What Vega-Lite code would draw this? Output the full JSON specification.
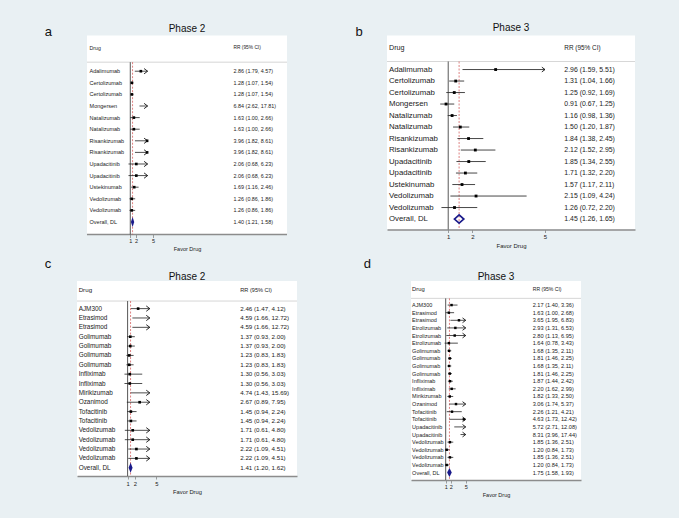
{
  "$schema": "https://vega.github.io/schema/vega-lite/v6.json",
  "background": "#e9f0f3",
  "padding": {"left": 44, "top": 22.5, "right": 45, "bottom": 20},
  "config": {
    "font": "Liberation Sans",
    "view": {"stroke": null},
    "text": {"align": "left", "baseline": "middle", "color": "#222", "font": "Liberation Sans"},
    "title": {"fontSize": 10, "fontWeight": "normal", "color": "#111", "baseline": "alphabetic", "frame": "group", "anchor": "middle", "font": "Liberation Sans"},
    "axisY": {"labels": false, "ticks": false, "domain": false, "grid": false, "titleAngle": 0, "titleAlign": "left", "titleBaseline": "alphabetic", "titleFontSize": 13, "titleFontWeight": "normal", "titleColor": "#111", "titleFont": "Liberation Sans"},
    "axisX": {"grid": false, "domainColor": "#8c8c8c", "domainWidth": 1.4, "tickColor": "#777", "tickWidth": 0.7, "tickSize": 3, "labelColor": "#222", "labelPadding": 1, "titleFontWeight": "normal", "titleColor": "#222", "titlePadding": 2.5, "labelOverlap": false, "labelFlush": false}
  },
  "spacing": 4.5,
  "vconcat": [
    {
      "spacing": 67,
      "hconcat": [
        {
          "width": 210, "height": 199,
          "title": {"text": "Phase 2", "offset": -8.3, "dx": 5},
          "data": {"values": [
            {"row": 1, "drug": "Adalimumab", "ci": "2.86 (1.79, 4.57)", "rr": 2.86, "lo": 1.79, "hi": 4.57, "type": "study"},
            {"row": 2, "drug": "Certolizumab", "ci": "1.28 (1.07, 1.54)", "rr": 1.28, "lo": 1.07, "hi": 1.54, "type": "study"},
            {"row": 3, "drug": "Certolizumab", "ci": "1.28 (1.07, 1.54)", "rr": 1.28, "lo": 1.07, "hi": 1.54, "type": "study"},
            {"row": 4, "drug": "Mongersen", "ci": "6.84 (2.62, 17.81)", "rr": 6.84, "lo": 2.62, "hi": 17.81, "type": "study"},
            {"row": 5, "drug": "Natalizumab", "ci": "1.63 (1.00, 2.66)", "rr": 1.63, "lo": 1.00, "hi": 2.66, "type": "study"},
            {"row": 6, "drug": "Natalizumab", "ci": "1.63 (1.00, 2.66)", "rr": 1.63, "lo": 1.00, "hi": 2.66, "type": "study"},
            {"row": 7, "drug": "Risankizumab", "ci": "3.96 (1.82, 8.61)", "rr": 3.96, "lo": 1.82, "hi": 8.61, "type": "study"},
            {"row": 8, "drug": "Risankizumab", "ci": "3.96 (1.82, 8.61)", "rr": 3.96, "lo": 1.82, "hi": 8.61, "type": "study"},
            {"row": 9, "drug": "Upadacitinib", "ci": "2.06 (0.68, 6.23)", "rr": 2.06, "lo": 0.68, "hi": 6.23, "type": "study"},
            {"row": 10, "drug": "Upadacitinib", "ci": "2.06 (0.68, 6.23)", "rr": 2.06, "lo": 0.68, "hi": 6.23, "type": "study"},
            {"row": 11, "drug": "Ustekinumab", "ci": "1.69 (1.16, 2.46)", "rr": 1.69, "lo": 1.16, "hi": 2.46, "type": "study"},
            {"row": 12, "drug": "Vedolizumab", "ci": "1.26 (0.86, 1.86)", "rr": 1.26, "lo": 0.86, "hi": 1.86, "type": "study"},
            {"row": 13, "drug": "Vedolizumab", "ci": "1.26 (0.86, 1.86)", "rr": 1.26, "lo": 0.86, "hi": 1.86, "type": "study"},
            {"row": 14, "drug": "Overall, DL", "ci": "1.40 (1.21, 1.58)", "rr": 1.40, "lo": 1.21, "hi": 1.58, "type": "overall"}
          ]},
          "encoding": {"y": {"field": "row", "type": "quantitative", "scale": {"domain": [-2.08, 15.08], "reverse": true, "nice": false, "zero": false}, "axis": {"title": "a", "titleX": -32.7, "titleY": 0}}},
          "resolve": {"scale": {"x": "independent"}, "axis": {"x": "independent"}},
          "layer": [
            {"transform": [{"filter": "datum.type == 'overall'"}], "mark": {"type": "rect", "color": "white", "opacity": 1}, "encoding": {"x": {"datum": -6.64, "scale": {"domain": [-8.4, 28.64], "nice": false, "zero": false}, "axis": null}, "x2": {"datum": 28.64}, "y": {"datum": -2.08, "scale": {"domain": [-2.08, 15.08], "reverse": true, "nice": false, "zero": false}, "axis": {"title": "a", "titleX": -32.7, "titleY": 0}}, "y2": {"datum": 15.08}}},
            {"mark": {"type": "text", "fontSize": 5.5}, "encoding": {"x": {"datum": -6.18, "scale": {"domain": [-8.4, 28.64], "nice": false, "zero": false}, "axis": null}, "text": {"field": "drug"}}},
            {"mark": {"type": "text", "fontSize": 5.4}, "encoding": {"x": {"datum": 19.22, "scale": {"domain": [-8.4, 28.64], "nice": false, "zero": false}, "axis": null}, "text": {"field": "ci"}}},
            {"transform": [{"filter": "datum.type == 'overall'"}], "mark": {"type": "text", "fontSize": 5.2}, "encoding": {"x": {"datum": -6.18, "scale": {"domain": [-8.4, 28.64], "nice": false, "zero": false}, "axis": null}, "y": {"datum": -1, "scale": {"domain": [-2.08, 15.08], "reverse": true, "nice": false, "zero": false}, "axis": {"title": "a", "titleX": -32.7, "titleY": 0}}, "text": {"value": "Drug"}}},
            {"transform": [{"filter": "datum.type == 'overall'"}], "mark": {"type": "text", "fontSize": 4.8}, "encoding": {"x": {"datum": 19.22, "scale": {"domain": [-8.4, 28.64], "nice": false, "zero": false}, "axis": null}, "y": {"datum": -1, "scale": {"domain": [-2.08, 15.08], "reverse": true, "nice": false, "zero": false}, "axis": {"title": "a", "titleX": -32.7, "titleY": 0}}, "text": {"value": "RR (95% CI)"}}},
            {"transform": [{"filter": "datum.type == 'overall'"}], "mark": {"type": "rule", "color": "#c4c4c4", "strokeWidth": 0.7}, "encoding": {"x": {"datum": -6.64, "scale": {"domain": [-8.4, 28.64], "nice": false, "zero": false}, "axis": null}, "x2": {"datum": 28.64}, "y": {"datum": 0.22, "scale": {"domain": [-2.08, 15.08], "reverse": true, "nice": false, "zero": false}, "axis": {"title": "a", "titleX": -32.7, "titleY": 0}}}},
            {"transform": [{"filter": "datum.type == 'overall'"}], "mark": {"type": "rule", "color": "#8c8c8c", "strokeWidth": 1.4}, "encoding": {"x": {"datum": -6.64, "scale": {"domain": [-8.4, 28.64], "nice": false, "zero": false}, "axis": null}, "x2": {"datum": 28.64}, "y": {"datum": 15.08, "scale": {"domain": [-2.08, 15.08], "reverse": true, "nice": false, "zero": false}, "axis": {"title": "a", "titleX": -32.7, "titleY": 0}}}},
            {"transform": [{"filter": "datum.type == 'overall'"}], "mark": {"type": "rule", "color": "#444", "strokeWidth": 0.9}, "encoding": {"x": {"datum": 1, "scale": {"domain": [-8.4, 28.64], "nice": false, "zero": false}, "axis": {"values": [1, 2, 5], "format": "d", "title": "Favor Drug", "domain": false, "labelFontSize": 5.5, "titleFontSize": 5.5, "titleX": 110}}, "y": {"datum": 0.22, "scale": {"domain": [-2.08, 15.08], "reverse": true, "nice": false, "zero": false}, "axis": {"title": "a", "titleX": -32.7, "titleY": 0}}, "y2": {"datum": 15.08}}},
            {"transform": [{"filter": "datum.type == 'overall'"}], "mark": {"type": "rule", "color": "#d04a4a", "strokeWidth": 0.7, "strokeDash": [2, 1.5]}, "encoding": {"x": {"field": "rr", "type": "quantitative", "scale": {"domain": [-8.4, 28.64], "nice": false, "zero": false}, "axis": null}, "y": {"datum": 0.22, "scale": {"domain": [-2.08, 15.08], "reverse": true, "nice": false, "zero": false}, "axis": {"title": "a", "titleX": -32.7, "titleY": 0}}, "y2": {"datum": 15.08}}},
            {"transform": [{"filter": "datum.type == 'study'"}], "mark": {"type": "rule", "color": "#222", "strokeWidth": 0.8}, "encoding": {"x": {"field": "lo", "type": "quantitative", "scale": {"domain": [-8.4, 4.05], "range": [0, 70.6], "clamp": true, "nice": false, "zero": false}, "axis": null}, "x2": {"field": "hi"}}},
            {"transform": [{"filter": "datum.type == 'study' && datum.rr <= 4.05"}], "mark": {"type": "point", "shape": "square", "filled": true, "color": "#000", "size": 7, "opacity": 1}, "encoding": {"x": {"field": "rr", "type": "quantitative", "scale": {"domain": [-8.4, 4.05], "range": [0, 70.6], "clamp": true, "nice": false, "zero": false}, "axis": null}}},
            {"transform": [{"filter": "datum.type == 'study' && datum.hi > 4.05"}], "mark": {"type": "point", "shape": "M-1,-0.75L0,0L-1,0.75", "filled": false, "color": "#111", "strokeWidth": 0.9, "size": 50, "opacity": 1}, "encoding": {"x": {"field": "hi", "type": "quantitative", "scale": {"domain": [-8.4, 4.05], "range": [0, 70.6], "clamp": true, "nice": false, "zero": false}, "axis": null}}},
            {"transform": [{"filter": "datum.type == 'overall'"}], "mark": {"type": "point", "shape": "M-0.33,0L0,-1L0.33,0L0,1Z", "filled": true, "color": "#1a1a8a", "size": 100, "opacity": 1}, "encoding": {"x": {"field": "rr", "type": "quantitative", "scale": {"domain": [-8.4, 4.05], "range": [0, 70.6], "clamp": true, "nice": false, "zero": false}, "axis": null}}}
          ]
        },
        {
          "width": 248, "height": 194,
          "view": {"fill": "white"},
          "title": {"text": "Phase 3", "offset": -7.7},
          "data": {"values": [
            {"row": 1, "drug": "Adalimumab", "ci": "2.96 (1.59, 5.51)", "rr": 2.96, "lo": 1.59, "hi": 5.51, "type": "study"},
            {"row": 2, "drug": "Certolizumab", "ci": "1.31 (1.04, 1.66)", "rr": 1.31, "lo": 1.04, "hi": 1.66, "type": "study"},
            {"row": 3, "drug": "Certolizumab", "ci": "1.25 (0.92, 1.69)", "rr": 1.25, "lo": 0.92, "hi": 1.69, "type": "study"},
            {"row": 4, "drug": "Mongersen", "ci": "0.91 (0.67, 1.25)", "rr": 0.91, "lo": 0.67, "hi": 1.25, "type": "study"},
            {"row": 5, "drug": "Natalizumab", "ci": "1.16 (0.98, 1.36)", "rr": 1.16, "lo": 0.98, "hi": 1.36, "type": "study"},
            {"row": 6, "drug": "Natalizumab", "ci": "1.50 (1.20, 1.87)", "rr": 1.50, "lo": 1.20, "hi": 1.87, "type": "study"},
            {"row": 7, "drug": "Risankizumab", "ci": "1.84 (1.38, 2.45)", "rr": 1.84, "lo": 1.38, "hi": 2.45, "type": "study"},
            {"row": 8, "drug": "Risankizumab", "ci": "2.12 (1.52, 2.95)", "rr": 2.12, "lo": 1.52, "hi": 2.95, "type": "study"},
            {"row": 9, "drug": "Upadacitinib", "ci": "1.85 (1.34, 2.55)", "rr": 1.85, "lo": 1.34, "hi": 2.55, "type": "study"},
            {"row": 10, "drug": "Upadacitinib", "ci": "1.71 (1.32, 2.20)", "rr": 1.71, "lo": 1.32, "hi": 2.20, "type": "study"},
            {"row": 11, "drug": "Ustekinumab", "ci": "1.57 (1.17, 2.11)", "rr": 1.57, "lo": 1.17, "hi": 2.11, "type": "study"},
            {"row": 12, "drug": "Vedolizumab", "ci": "2.15 (1.09, 4.24)", "rr": 2.15, "lo": 1.09, "hi": 4.24, "type": "study"},
            {"row": 13, "drug": "Vedolizumab", "ci": "1.26 (0.72, 2.20)", "rr": 1.26, "lo": 0.72, "hi": 2.20, "type": "study"},
            {"row": 14, "drug": "Overall, DL", "ci": "1.45 (1.26, 1.65)", "rr": 1.45, "lo": 1.26, "hi": 1.65, "type": "overall"}
          ]},
          "encoding": {"y": {"field": "row", "type": "quantitative", "scale": {"domain": [-1.96, 14.91], "reverse": true, "nice": false, "zero": false}, "axis": {"title": "b", "titleX": -32, "titleY": 0}}},
          "resolve": {"scale": {"x": "independent"}, "axis": {"x": "independent"}},
          "layer": [
            {"mark": {"type": "text", "fontSize": 7.8}, "encoding": {"x": {"datum": -1.45, "scale": {"domain": [-1.53, 8.72], "nice": false, "zero": false}, "axis": null}, "text": {"field": "drug"}}},
            {"mark": {"type": "text", "fontSize": 6.9}, "encoding": {"x": {"datum": 5.8, "scale": {"domain": [-1.53, 8.72], "nice": false, "zero": false}, "axis": null}, "text": {"field": "ci"}}},
            {"transform": [{"filter": "datum.type == 'overall'"}], "mark": {"type": "text", "fontSize": 7.2}, "encoding": {"x": {"datum": -1.45, "scale": {"domain": [-1.53, 8.72], "nice": false, "zero": false}, "axis": null}, "y": {"datum": -0.88, "scale": {"domain": [-1.96, 14.91], "reverse": true, "nice": false, "zero": false}, "axis": {"title": "b", "titleX": -32, "titleY": 0}}, "text": {"value": "Drug"}}},
            {"transform": [{"filter": "datum.type == 'overall'"}], "mark": {"type": "text", "fontSize": 6.4}, "encoding": {"x": {"datum": 5.8, "scale": {"domain": [-1.53, 8.72], "nice": false, "zero": false}, "axis": null}, "y": {"datum": -0.88, "scale": {"domain": [-1.96, 14.91], "reverse": true, "nice": false, "zero": false}, "axis": {"title": "b", "titleX": -32, "titleY": 0}}, "text": {"value": "RR (95% CI)"}}},
            {"transform": [{"filter": "datum.type == 'overall'"}], "mark": {"type": "rule", "color": "#c4c4c4", "strokeWidth": 0.7}, "encoding": {"y": {"datum": 0.3, "scale": {"domain": [-1.96, 14.91], "reverse": true, "nice": false, "zero": false}, "axis": {"title": "b", "titleX": -32, "titleY": 0}}}},
            {"transform": [{"filter": "datum.type == 'overall'"}], "mark": {"type": "rule", "color": "#444", "strokeWidth": 0.9}, "encoding": {"x": {"datum": 1, "scale": {"domain": [-1.53, 8.72], "nice": false, "zero": false}, "axis": {"values": [1, 2, 5], "format": "d", "title": "Favor Drug", "labelFontSize": 6, "titleFontSize": 6}}, "y": {"datum": 0.3, "scale": {"domain": [-1.96, 14.91], "reverse": true, "nice": false, "zero": false}, "axis": {"title": "b", "titleX": -32, "titleY": 0}}, "y2": {"datum": 14.91}}},
            {"transform": [{"filter": "datum.type == 'overall'"}], "mark": {"type": "rule", "color": "#d04a4a", "strokeWidth": 0.7, "strokeDash": [2, 1.5]}, "encoding": {"x": {"field": "rr", "type": "quantitative", "scale": {"domain": [-1.53, 8.72], "nice": false, "zero": false}, "axis": null}, "y": {"datum": 0.3, "scale": {"domain": [-1.96, 14.91], "reverse": true, "nice": false, "zero": false}, "axis": {"title": "b", "titleX": -32, "titleY": 0}}, "y2": {"datum": 14.91}}},
            {"transform": [{"filter": "datum.type == 'study'"}], "mark": {"type": "rule", "color": "#333", "strokeWidth": 0.9}, "encoding": {"x": {"field": "lo", "type": "quantitative", "scale": {"domain": [-1.53, 5], "range": [0, 158], "clamp": true, "nice": false, "zero": false}, "axis": null}, "x2": {"field": "hi"}}},
            {"transform": [{"filter": "datum.type == 'study' && datum.rr <= 5"}], "mark": {"type": "point", "shape": "square", "filled": true, "color": "#000", "size": 8, "opacity": 1}, "encoding": {"x": {"field": "rr", "type": "quantitative", "scale": {"domain": [-1.53, 5], "range": [0, 158], "clamp": true, "nice": false, "zero": false}, "axis": null}}},
            {"transform": [{"filter": "datum.type == 'study' && datum.hi > 5"}], "mark": {"type": "point", "shape": "M-1,-0.75L0,0L-1,0.75", "filled": false, "color": "#111", "strokeWidth": 0.9, "size": 40, "opacity": 1}, "encoding": {"x": {"field": "hi", "type": "quantitative", "scale": {"domain": [-1.53, 5], "range": [0, 158], "clamp": true, "nice": false, "zero": false}, "axis": null}}},
            {"transform": [{"filter": "datum.type == 'overall'"}], "mark": {"type": "point", "shape": "M-1,0L0,-0.88L1,0L0,0.88Z", "filled": false, "color": "#1a1a8a", "strokeWidth": 1.7, "size": 88, "opacity": 1}, "encoding": {"x": {"field": "rr", "type": "quantitative", "scale": {"domain": [-1.53, 5], "range": [0, 158], "clamp": true, "nice": false, "zero": false}, "axis": null}}}
          ]
        }
      ]
    },
    {
      "spacing": 65,
      "hconcat": [
        {
          "width": 220, "height": 195,
          "view": {"fill": "white"},
          "title": {"text": "Phase 2", "offset": -23.8},
          "data": {"values": [
            {"row": 1, "drug": "AJM300", "ci": "2.46 (1.47, 4.12)", "rr": 2.46, "lo": 1.47, "hi": 4.12, "type": "study"},
            {"row": 2, "drug": "Etrasimod", "ci": "4.59 (1.66, 12.72)", "rr": 4.59, "lo": 1.66, "hi": 12.72, "type": "study"},
            {"row": 3, "drug": "Etrasimod", "ci": "4.59 (1.66, 12.72)", "rr": 4.59, "lo": 1.66, "hi": 12.72, "type": "study"},
            {"row": 4, "drug": "Golimumab", "ci": "1.37 (0.93, 2.00)", "rr": 1.37, "lo": 0.93, "hi": 2.00, "type": "study"},
            {"row": 5, "drug": "Golimumab", "ci": "1.37 (0.93, 2.00)", "rr": 1.37, "lo": 0.93, "hi": 2.00, "type": "study"},
            {"row": 6, "drug": "Golimumab", "ci": "1.23 (0.83, 1.83)", "rr": 1.23, "lo": 0.83, "hi": 1.83, "type": "study"},
            {"row": 7, "drug": "Golimumab", "ci": "1.23 (0.83, 1.83)", "rr": 1.23, "lo": 0.83, "hi": 1.83, "type": "study"},
            {"row": 8, "drug": "Infliximab", "ci": "1.30 (0.56, 3.03)", "rr": 1.30, "lo": 0.56, "hi": 3.03, "type": "study"},
            {"row": 9, "drug": "Infliximab", "ci": "1.30 (0.56, 3.03)", "rr": 1.30, "lo": 0.56, "hi": 3.03, "type": "study"},
            {"row": 10, "drug": "Mirikizumab", "ci": "4.74 (1.43, 15.69)", "rr": 4.74, "lo": 1.43, "hi": 15.69, "type": "study"},
            {"row": 11, "drug": "Ozanimod", "ci": "2.67 (0.89, 7.95)", "rr": 2.67, "lo": 0.89, "hi": 7.95, "type": "study"},
            {"row": 12, "drug": "Tofacitinib", "ci": "1.45 (0.94, 2.24)", "rr": 1.45, "lo": 0.94, "hi": 2.24, "type": "study"},
            {"row": 13, "drug": "Tofacitinib", "ci": "1.45 (0.94, 2.24)", "rr": 1.45, "lo": 0.94, "hi": 2.24, "type": "study"},
            {"row": 14, "drug": "Vedolizumab", "ci": "1.71 (0.61, 4.80)", "rr": 1.71, "lo": 0.61, "hi": 4.80, "type": "study"},
            {"row": 15, "drug": "Vedolizumab", "ci": "1.71 (0.61, 4.80)", "rr": 1.71, "lo": 0.61, "hi": 4.80, "type": "study"},
            {"row": 16, "drug": "Vedolizumab", "ci": "2.22 (1.09, 4.51)", "rr": 2.22, "lo": 1.09, "hi": 4.51, "type": "study"},
            {"row": 17, "drug": "Vedolizumab", "ci": "2.22 (1.09, 4.51)", "rr": 2.22, "lo": 1.09, "hi": 4.51, "type": "study"},
            {"row": 18, "drug": "Overall, DL", "ci": "1.41 (1.20, 1.62)", "rr": 1.41, "lo": 1.20, "hi": 1.62, "type": "overall"}
          ]},
          "encoding": {"y": {"field": "row", "type": "quantitative", "scale": {"domain": [-1.95, 18.88], "reverse": true, "nice": false, "zero": false}, "axis": {"title": "c", "titleX": -32.7, "titleY": -13.2}}},
          "resolve": {"scale": {"x": "independent"}, "axis": {"x": "independent"}},
          "layer": [
            {"mark": {"type": "text", "fontSize": 6.4}, "encoding": {"x": {"datum": -5.8, "scale": {"domain": [-6.03, 24.53], "nice": false, "zero": false}, "axis": null}, "text": {"field": "drug"}}},
            {"mark": {"type": "text", "fontSize": 6.2}, "encoding": {"x": {"datum": 16.65, "scale": {"domain": [-6.03, 24.53], "nice": false, "zero": false}, "axis": null}, "text": {"field": "ci"}}},
            {"transform": [{"filter": "datum.type == 'overall'"}], "mark": {"type": "text", "fontSize": 6.2}, "encoding": {"x": {"datum": -5.8, "scale": {"domain": [-6.03, 24.53], "nice": false, "zero": false}, "axis": null}, "y": {"datum": -0.96, "scale": {"domain": [-1.95, 18.88], "reverse": true, "nice": false, "zero": false}, "axis": {"title": "c", "titleX": -32.7, "titleY": -13.2}}, "text": {"value": "Drug"}}},
            {"transform": [{"filter": "datum.type == 'overall'"}], "mark": {"type": "text", "fontSize": 5.6}, "encoding": {"x": {"datum": 16.65, "scale": {"domain": [-6.03, 24.53], "nice": false, "zero": false}, "axis": null}, "y": {"datum": -0.96, "scale": {"domain": [-1.95, 18.88], "reverse": true, "nice": false, "zero": false}, "axis": {"title": "c", "titleX": -32.7, "titleY": -13.2}}, "text": {"value": "RR (95% CI)"}}},
            {"transform": [{"filter": "datum.type == 'overall'"}], "mark": {"type": "rule", "color": "#c4c4c4", "strokeWidth": 0.7}, "encoding": {"y": {"datum": 0.19, "scale": {"domain": [-1.95, 18.88], "reverse": true, "nice": false, "zero": false}, "axis": {"title": "c", "titleX": -32.7, "titleY": -13.2}}}},
            {"transform": [{"filter": "datum.type == 'overall'"}], "mark": {"type": "rule", "color": "#444", "strokeWidth": 0.9}, "encoding": {"x": {"datum": 1, "scale": {"domain": [-6.03, 24.53], "nice": false, "zero": false}, "axis": {"values": [1, 2, 5], "format": "d", "title": "Favor Drug", "labelFontSize": 5.8, "titleFontSize": 5.8}}, "y": {"datum": 0.19, "scale": {"domain": [-1.95, 18.88], "reverse": true, "nice": false, "zero": false}, "axis": {"title": "c", "titleX": -32.7, "titleY": -13.2}}, "y2": {"datum": 18.88}}},
            {"transform": [{"filter": "datum.type == 'overall'"}], "mark": {"type": "rule", "color": "#d04a4a", "strokeWidth": 0.7, "strokeDash": [2, 1.5]}, "encoding": {"x": {"field": "rr", "type": "quantitative", "scale": {"domain": [-6.03, 24.53], "nice": false, "zero": false}, "axis": null}, "y": {"datum": 0.19, "scale": {"domain": [-1.95, 18.88], "reverse": true, "nice": false, "zero": false}, "axis": {"title": "c", "titleX": -32.7, "titleY": -13.2}}, "y2": {"datum": 18.88}}},
            {"transform": [{"filter": "datum.type == 'study'"}], "mark": {"type": "rule", "color": "#222", "strokeWidth": 0.8}, "encoding": {"x": {"field": "lo", "type": "quantitative", "scale": {"domain": [-6.03, 4.08], "range": [0, 72.8], "clamp": true, "nice": false, "zero": false}, "axis": null}, "x2": {"field": "hi"}}},
            {"transform": [{"filter": "datum.type == 'study' && datum.rr <= 4.08"}], "mark": {"type": "point", "shape": "square", "filled": true, "color": "#000", "size": 7, "opacity": 1}, "encoding": {"x": {"field": "rr", "type": "quantitative", "scale": {"domain": [-6.03, 4.08], "range": [0, 72.8], "clamp": true, "nice": false, "zero": false}, "axis": null}}},
            {"transform": [{"filter": "datum.type == 'study' && datum.hi > 4.08"}], "mark": {"type": "point", "shape": "M-1,-0.75L0,0L-1,0.75", "filled": false, "color": "#111", "strokeWidth": 0.9, "size": 50, "opacity": 1}, "encoding": {"x": {"field": "hi", "type": "quantitative", "scale": {"domain": [-6.03, 4.08], "range": [0, 72.8], "clamp": true, "nice": false, "zero": false}, "axis": null}}},
            {"transform": [{"filter": "datum.type == 'overall'"}], "mark": {"type": "point", "shape": "M-0.4,0L0,-1L0.4,0L0,1Z", "filled": true, "color": "#1a1a8a", "size": 100, "opacity": 1}, "encoding": {"x": {"field": "rr", "type": "quantitative", "scale": {"domain": [-6.03, 4.08], "range": [0, 72.8], "clamp": true, "nice": false, "zero": false}, "axis": null}}}
          ]
        },
        {
          "width": 170, "height": 199,
          "view": {"fill": "white"},
          "title": {"text": "Phase 3", "offset": -23.8},
          "data": {"values": [
            {"row": 1, "drug": "AJM300", "ci": "2.17 (1.40, 3.36)", "rr": 2.17, "lo": 1.40, "hi": 3.36, "type": "study"},
            {"row": 2, "drug": "Etrasimod", "ci": "1.63 (1.00, 2.68)", "rr": 1.63, "lo": 1.00, "hi": 2.68, "type": "study"},
            {"row": 3, "drug": "Etrasimod", "ci": "3.65 (1.95, 6.83)", "rr": 3.65, "lo": 1.95, "hi": 6.83, "type": "study"},
            {"row": 4, "drug": "Etrolizumab", "ci": "2.93 (1.31, 6.53)", "rr": 2.93, "lo": 1.31, "hi": 6.53, "type": "study"},
            {"row": 5, "drug": "Etrolizumab", "ci": "2.80 (1.13, 6.95)", "rr": 2.80, "lo": 1.13, "hi": 6.95, "type": "study"},
            {"row": 6, "drug": "Etrolizumab", "ci": "1.64 (0.78, 3.43)", "rr": 1.64, "lo": 0.78, "hi": 3.43, "type": "study"},
            {"row": 7, "drug": "Golimumab", "ci": "1.68 (1.35, 2.11)", "rr": 1.68, "lo": 1.35, "hi": 2.11, "type": "study"},
            {"row": 8, "drug": "Golimumab", "ci": "1.81 (1.46, 2.25)", "rr": 1.81, "lo": 1.46, "hi": 2.25, "type": "study"},
            {"row": 9, "drug": "Golimumab", "ci": "1.68 (1.35, 2.11)", "rr": 1.68, "lo": 1.35, "hi": 2.11, "type": "study"},
            {"row": 10, "drug": "Golimumab", "ci": "1.81 (1.46, 2.25)", "rr": 1.81, "lo": 1.46, "hi": 2.25, "type": "study"},
            {"row": 11, "drug": "Infliximab", "ci": "1.87 (1.44, 2.42)", "rr": 1.87, "lo": 1.44, "hi": 2.42, "type": "study"},
            {"row": 12, "drug": "Infliximab", "ci": "2.20 (1.62, 2.99)", "rr": 2.20, "lo": 1.62, "hi": 2.99, "type": "study"},
            {"row": 13, "drug": "Mirikizumab", "ci": "1.82 (1.33, 2.50)", "rr": 1.82, "lo": 1.33, "hi": 2.50, "type": "study"},
            {"row": 14, "drug": "Ozanimod", "ci": "3.06 (1.74, 5.37)", "rr": 3.06, "lo": 1.74, "hi": 5.37, "type": "study"},
            {"row": 15, "drug": "Tofacitinib", "ci": "2.26 (1.21, 4.21)", "rr": 2.26, "lo": 1.21, "hi": 4.21, "type": "study"},
            {"row": 16, "drug": "Tofacitinib", "ci": "4.63 (1.73, 12.42)", "rr": 4.63, "lo": 1.73, "hi": 12.42, "type": "study"},
            {"row": 17, "drug": "Upadacitinib", "ci": "5.72 (2.71, 12.08)", "rr": 5.72, "lo": 2.71, "hi": 12.08, "type": "study"},
            {"row": 18, "drug": "Upadacitinib", "ci": "8.31 (3.96, 17.44)", "rr": 8.31, "lo": 3.96, "hi": 17.44, "type": "study"},
            {"row": 19, "drug": "Vedolizumab", "ci": "1.85 (1.36, 2.51)", "rr": 1.85, "lo": 1.36, "hi": 2.51, "type": "study"},
            {"row": 20, "drug": "Vedolizumab", "ci": "1.20 (0.84, 1.73)", "rr": 1.20, "lo": 0.84, "hi": 1.73, "type": "study"},
            {"row": 21, "drug": "Vedolizumab", "ci": "1.85 (1.36, 2.51)", "rr": 1.85, "lo": 1.36, "hi": 2.51, "type": "study"},
            {"row": 22, "drug": "Vedolizumab", "ci": "1.20 (0.84, 1.73)", "rr": 1.20, "lo": 0.84, "hi": 1.73, "type": "study"},
            {"row": 23, "drug": "Overall, DL", "ci": "1.75 (1.58, 1.93)", "rr": 1.75, "lo": 1.58, "hi": 1.93, "type": "overall"}
          ]},
          "encoding": {"y": {"field": "row", "type": "quantitative", "scale": {"domain": [-2.16, 23.97], "reverse": true, "nice": false, "zero": false}, "axis": {"title": "d", "titleX": -47.8, "titleY": -13.2}}},
          "resolve": {"scale": {"x": "independent"}, "axis": {"x": "independent"}},
          "layer": [
            {"mark": {"type": "text", "fontSize": 5.5}, "encoding": {"x": {"datum": -5.72, "scale": {"domain": [-5.94, 28.06], "nice": false, "zero": false}, "axis": null}, "text": {"field": "drug"}}},
            {"mark": {"type": "text", "fontSize": 5.6}, "encoding": {"x": {"datum": 18.4, "scale": {"domain": [-5.94, 28.06], "nice": false, "zero": false}, "axis": null}, "text": {"field": "ci"}}},
            {"transform": [{"filter": "datum.type == 'overall'"}], "mark": {"type": "text", "fontSize": 5.8}, "encoding": {"x": {"datum": -5.72, "scale": {"domain": [-5.94, 28.06], "nice": false, "zero": false}, "axis": null}, "y": {"datum": -1.06, "scale": {"domain": [-2.16, 23.97], "reverse": true, "nice": false, "zero": false}, "axis": {"title": "d", "titleX": -47.8, "titleY": -13.2}}, "text": {"value": "Drug"}}},
            {"transform": [{"filter": "datum.type == 'overall'"}], "mark": {"type": "text", "fontSize": 5.1}, "encoding": {"x": {"datum": 18.4, "scale": {"domain": [-5.94, 28.06], "nice": false, "zero": false}, "axis": null}, "y": {"datum": -1.06, "scale": {"domain": [-2.16, 23.97], "reverse": true, "nice": false, "zero": false}, "axis": {"title": "d", "titleX": -47.8, "titleY": -13.2}}, "text": {"value": "RR (95% CI)"}}},
            {"transform": [{"filter": "datum.type == 'overall'"}], "mark": {"type": "rule", "color": "#c4c4c4", "strokeWidth": 0.7}, "encoding": {"y": {"datum": 0.12, "scale": {"domain": [-2.16, 23.97], "reverse": true, "nice": false, "zero": false}, "axis": {"title": "d", "titleX": -47.8, "titleY": -13.2}}}},
            {"transform": [{"filter": "datum.type == 'overall'"}], "mark": {"type": "rule", "color": "#444", "strokeWidth": 0.9}, "encoding": {"x": {"datum": 1, "scale": {"domain": [-5.94, 28.06], "nice": false, "zero": false}, "axis": {"values": [1, 2, 5], "format": "d", "title": "Favor Drug", "labelFontSize": 5.5, "titleFontSize": 5.5}}, "y": {"datum": 0.12, "scale": {"domain": [-2.16, 23.97], "reverse": true, "nice": false, "zero": false}, "axis": {"title": "d", "titleX": -47.8, "titleY": -13.2}}, "y2": {"datum": 23.97}}},
            {"transform": [{"filter": "datum.type == 'overall'"}], "mark": {"type": "rule", "color": "#d04a4a", "strokeWidth": 0.7, "strokeDash": [2, 1.5]}, "encoding": {"x": {"field": "rr", "type": "quantitative", "scale": {"domain": [-5.94, 28.06], "nice": false, "zero": false}, "axis": null}, "y": {"datum": 0.12, "scale": {"domain": [-2.16, 23.97], "reverse": true, "nice": false, "zero": false}, "axis": {"title": "d", "titleX": -47.8, "titleY": -13.2}}, "y2": {"datum": 23.97}}},
            {"transform": [{"filter": "datum.type == 'study'"}], "mark": {"type": "rule", "color": "#222", "strokeWidth": 0.8}, "encoding": {"x": {"field": "lo", "type": "quantitative", "scale": {"domain": [-5.94, 5], "range": [0, 54.7], "clamp": true, "nice": false, "zero": false}, "axis": null}, "x2": {"field": "hi"}}},
            {"transform": [{"filter": "datum.type == 'study' && datum.rr <= 5"}], "mark": {"type": "point", "shape": "square", "filled": true, "color": "#000", "size": 6, "opacity": 1}, "encoding": {"x": {"field": "rr", "type": "quantitative", "scale": {"domain": [-5.94, 5], "range": [0, 54.7], "clamp": true, "nice": false, "zero": false}, "axis": null}}},
            {"transform": [{"filter": "datum.type == 'study' && datum.hi > 5"}], "mark": {"type": "point", "shape": "M-1,-0.75L0,0L-1,0.75", "filled": false, "color": "#111", "strokeWidth": 0.9, "size": 40, "opacity": 1}, "encoding": {"x": {"field": "hi", "type": "quantitative", "scale": {"domain": [-5.94, 5], "range": [0, 54.7], "clamp": true, "nice": false, "zero": false}, "axis": null}}},
            {"transform": [{"filter": "datum.type == 'overall'"}], "mark": {"type": "point", "shape": "M-0.52,0L0,-1L0.52,0L0,1Z", "filled": true, "color": "#1a1a8a", "size": 81, "opacity": 1}, "encoding": {"x": {"field": "rr", "type": "quantitative", "scale": {"domain": [-5.94, 5], "range": [0, 54.7], "clamp": true, "nice": false, "zero": false}, "axis": null}}}
          ]
        }
      ]
    }
  ]
}
